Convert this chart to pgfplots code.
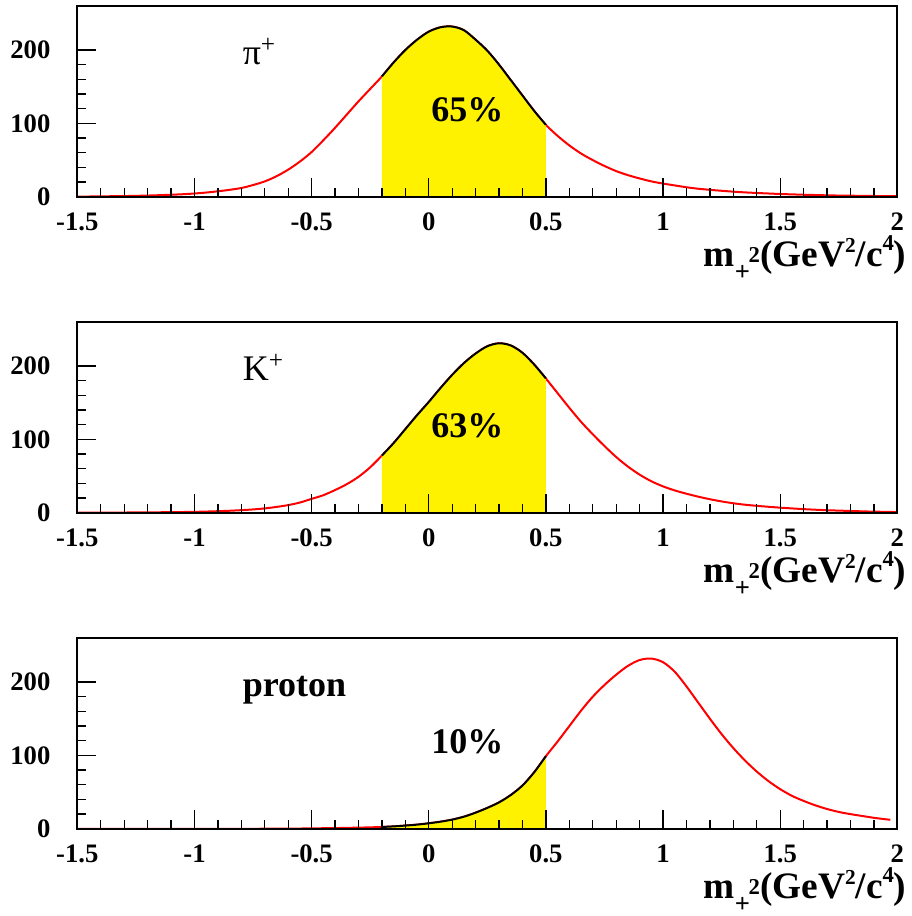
\documentclass[border=0pt]{standalone}
\usepackage{fontspec}
\setmainfont{Liberation Serif}
\usepackage{pgfplots}
\pgfplotsset{compat=1.18}
\usepackage{pgfplotstable}

\pgfplotstableread{
x y
-1.5 0.3
-1.45 0.4
-1.4 0.6
-1.35 0.8
-1.3 1.0
-1.25 1.3
-1.2 1.7
-1.15 2.2
-1.1 2.8
-1.05 3.5
-1.0 4.5
-0.95 5.8
-0.9 7.5
-0.85 9.5
-0.8 12
-0.75 16
-0.7 21
-0.65 28
-0.6 37
-0.55 48
-0.5 61
-0.45 77
-0.4 94
-0.35 112
-0.3 130
-0.25 147
-0.2 164
-0.15 183
-0.1 200
-0.05 214
0.0 225
0.05 231
0.1 232
0.15 227
0.2 214
0.25 199
0.3 180
0.35 159
0.4 138
0.45 117
0.5 98
0.55 83
0.6 70
0.65 59
0.7 50
0.75 42
0.8 35
0.85 29.5
0.9 25
0.95 21
1.0 18
1.05 15.5
1.1 13
1.15 11
1.2 9.5
1.25 8.2
1.3 7
1.35 6
1.4 5.2
1.45 4.5
1.5 3.8
1.55 3.3
1.6 2.8
1.65 2.4
1.7 2
1.75 1.7
1.8 1.5
1.85 1.3
1.9 1.1
1.95 0.9
2.0 0.8
}\pidata

\pgfplotstableread{
x y
-1.5 0.2
-1.4 0.3
-1.3 0.4
-1.2 0.6
-1.1 0.9
-1.0 1.3
-0.95 1.7
-0.9 2.2
-0.85 2.8
-0.8 3.6
-0.75 4.6
-0.7 6
-0.65 8
-0.6 10.5
-0.55 14
-0.5 19
-0.45 24
-0.4 31
-0.35 39
-0.3 49
-0.25 62
-0.2 78
-0.15 95
-0.1 114
-0.05 133
0.0 151
0.05 170
0.1 188
0.15 204
0.2 217
0.25 227
0.3 231
0.35 228
0.4 218
0.45 202
0.5 183
0.55 163
0.6 143
0.65 124
0.7 107
0.75 91
0.8 76
0.85 63
0.9 52
0.95 43
1.0 36
1.05 30.5
1.1 26
1.15 22
1.2 18.5
1.25 15.5
1.3 13
1.35 11
1.4 9.5
1.45 8.2
1.5 7
1.55 6
1.6 5
1.65 4.2
1.7 3.5
1.75 3
1.8 2.5
1.85 2
1.9 1.6
1.95 1.3
2.0 1
}\kdata

\pgfplotstableread{
x y
-1.5 0
-1.2 0
-0.9 0
-0.7 0.1
-0.65 0.2
-0.6 0.3
-0.55 0.4
-0.5 0.6
-0.45 0.8
-0.4 1.0
-0.35 1.3
-0.3 1.6
-0.25 2.0
-0.2 2.5
-0.15 3.3
-0.1 4.4
-0.05 5.7
0.0 7.5
0.05 9.7
0.1 12.5
0.15 16.5
0.2 22
0.25 28.5
0.3 36
0.35 46
0.4 59
0.45 77
0.5 99
0.55 119
0.6 140
0.65 161
0.7 180
0.75 196
0.8 210
0.85 222
0.9 230
0.95 232
1.0 227
1.05 214
1.1 194
1.15 172
1.2 150
1.25 129
1.3 110
1.35 93
1.4 78
1.45 65
1.5 54
1.55 45
1.6 38
1.65 32
1.7 27
1.75 23
1.8 20
1.85 17.5
1.9 15
1.95 13
1.97 12.3
}\pdata

\pgfplotsset{
  panel/.style={
    scale only axis, width=615pt, height=143.1pt,
    xmin=-1.5, xmax=2, ymin=0, ymax=260,
    xtick={-1.5,-1,-0.5,0,0.5,1,1.5,2},
    xticklabels={-1.5,-1,-0.5,0,0.5,1,1.5,2},
    ytick={0,100,200}, yticklabels={0,100,200},
    minor x tick num=4, minor y tick num=4,
    tick align=inside, xtick pos=bottom, ytick pos=left,
    major tick length=14pt, minor tick length=6.5pt,
    every tick/.style={black, line width=1pt},
    axis line style={line width=1.5pt},
    axis on top,
    ticklabel style={font=\fontsize{20}{20}\selectfont\bfseries},
    xticklabel style={inner sep=0pt, yshift=-12pt},
    yticklabel style={inner sep=0pt, xshift=-20pt},
    xlabel={m\raisebox{-10pt}{\fontsize{20}{20}\selectfont +}\hspace{-1pt}\raisebox{3pt}{\fontsize{17}{17}\selectfont 2}(GeV\raisebox{11pt}{\fontsize{16}{16}\selectfont 2}/c\raisebox{12pt}{\fontsize{17}{17}\selectfont 4})},
    xlabel style={at={(axis description cs:1,0)}, anchor=base east, inner sep=0pt, xshift=7pt, yshift=-52.5pt, font=\fontsize{28}{28}\selectfont\bfseries},
  },
  curve/.style={red, line width=1.5pt, smooth},
  area/.style={fill=yellow, draw=none, smooth, restrict x to domain=-0.2001:0.5001},
  edge/.style={black, line width=1.5pt, smooth, restrict x to domain=-0.2001:0.5001},
}
\tikzset{
  lab/.style={anchor=base west, inner sep=0pt, font=\fontsize{27}{27}\selectfont},
  pct/.style={anchor=base, inner sep=0pt, font=\fontsize{27}{27}\selectfont\bfseries},
}

\begin{document}
\begin{tikzpicture}
\begin{axis}[panel, at={(0pt,0pt)}, anchor=north west]
\addplot[curve] table {\pidata};
\addplot[area] table {\pidata} \closedcycle;
\addplot[edge] table {\pidata};
\node[lab] at (axis cs:-0.795,180) {π\textsuperscript{+}};
\node[pct] at (axis cs:0.165,102) {65\%};
\end{axis}
\begin{axis}[panel, at={(0pt,-237pt)}, anchor=north west]
\addplot[curve] table {\kdata};
\addplot[area] table {\kdata} \closedcycle;
\addplot[edge] table {\kdata};
\node[lab] at (axis cs:-0.795,180) {K\textsuperscript{+}};
\node[pct] at (axis cs:0.165,102) {63\%};
\end{axis}
\begin{axis}[panel, at={(0pt,-474pt)}, anchor=north west]
\addplot[curve] table {\pdata};
\addplot[area] table {\pdata} \closedcycle;
\addplot[edge] table {\pdata};
\node[lab, font=\fontsize{27}{27}\selectfont\bfseries] at (axis cs:-0.795,180) {proton};
\node[pct] at (axis cs:0.165,102) {10\%};
\end{axis}
\pgfresetboundingbox
\path[use as bounding box] (-58pt,4.5pt) rectangle (626pt,-682.5pt);
\end{tikzpicture}
\end{document}
